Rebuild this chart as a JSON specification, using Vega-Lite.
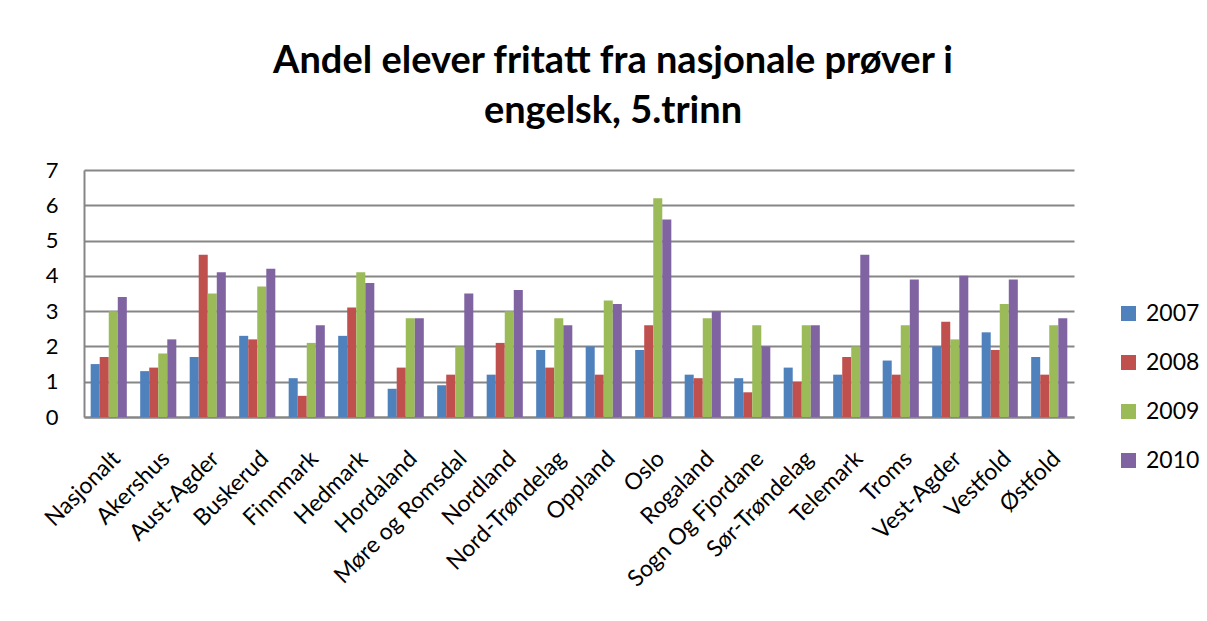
{
  "$schema": "https://vega.github.io/schema/vega-lite/v6.json",
  "autosize": "none",
  "padding": {"left": 84, "top": 170, "right": 133, "bottom": 204},
  "width": 990,
  "height": 247,
  "background": "white",
  "title": {
    "text": ["Andel elever fritatt fra nasjonale prøver i", "engelsk, 5.trinn"],
    "font": "Lato",
    "fontSize": 38,
    "fontWeight": "bold",
    "color": "black",
    "lineHeight": 50,
    "anchor": "middle",
    "frame": "group",
    "dx": 34,
    "offset": 28
  },
  "data": {
    "values": [
      {"region": "Nasjonalt", "2007": 1.5, "2008": 1.7, "2009": 3.0, "2010": 3.4},
      {"region": "Akershus", "2007": 1.3, "2008": 1.4, "2009": 1.8, "2010": 2.2},
      {"region": "Aust-Agder", "2007": 1.7, "2008": 4.6, "2009": 3.5, "2010": 4.1},
      {"region": "Buskerud", "2007": 2.3, "2008": 2.2, "2009": 3.7, "2010": 4.2},
      {"region": "Finnmark", "2007": 1.1, "2008": 0.6, "2009": 2.1, "2010": 2.6},
      {"region": "Hedmark", "2007": 2.3, "2008": 3.1, "2009": 4.1, "2010": 3.8},
      {"region": "Hordaland", "2007": 0.8, "2008": 1.4, "2009": 2.8, "2010": 2.8},
      {"region": "Møre og Romsdal", "2007": 0.9, "2008": 1.2, "2009": 2.0, "2010": 3.5},
      {"region": "Nordland", "2007": 1.2, "2008": 2.1, "2009": 3.0, "2010": 3.6},
      {"region": "Nord-Trøndelag", "2007": 1.9, "2008": 1.4, "2009": 2.8, "2010": 2.6},
      {"region": "Oppland", "2007": 2.0, "2008": 1.2, "2009": 3.3, "2010": 3.2},
      {"region": "Oslo", "2007": 1.9, "2008": 2.6, "2009": 6.2, "2010": 5.6},
      {"region": "Rogaland", "2007": 1.2, "2008": 1.1, "2009": 2.8, "2010": 3.0},
      {"region": "Sogn Og Fjordane", "2007": 1.1, "2008": 0.7, "2009": 2.6, "2010": 2.0},
      {"region": "Sør-Trøndelag", "2007": 1.4, "2008": 1.0, "2009": 2.6, "2010": 2.6},
      {"region": "Telemark", "2007": 1.2, "2008": 1.7, "2009": 2.0, "2010": 4.6},
      {"region": "Troms", "2007": 1.6, "2008": 1.2, "2009": 2.6, "2010": 3.9},
      {"region": "Vest-Agder", "2007": 2.0, "2008": 2.7, "2009": 2.2, "2010": 4.0},
      {"region": "Vestfold", "2007": 2.4, "2008": 1.9, "2009": 3.2, "2010": 3.9},
      {"region": "Østfold", "2007": 1.7, "2008": 1.2, "2009": 2.6, "2010": 2.8}
    ]
  },
  "transform": [
    {"fold": ["2007", "2008", "2009", "2010"], "as": ["year", "value"]}
  ],
  "mark": {"type": "bar"},
  "encoding": {
    "x": {
      "field": "region",
      "type": "nominal",
      "sort": null,
      "title": null,
      "scale": {"paddingInner": 0.27, "paddingOuter": 0.135},
      "axis": {
        "labelAngle": -45,
        "labelAlign": "right",
        "labelBaseline": "top",
        "labelFont": "Lato",
        "labelFontSize": 23,
        "labelColor": "black",
        "labelPadding": 30,
        "labelLimit": 400,
        "labelOverlap": false,
        "ticks": false,
        "domainColor": "#868686",
        "domainWidth": 2
      }
    },
    "xOffset": {"field": "year", "type": "nominal", "sort": ["2007", "2008", "2009", "2010"]},
    "y": {
      "field": "value",
      "type": "quantitative",
      "title": null,
      "scale": {"domain": [0, 7], "nice": false},
      "axis": {
        "values": [0, 1, 2, 3, 4, 5, 6, 7],
        "labelFont": "Lato",
        "labelFontSize": 22,
        "labelColor": "black",
        "labelPadding": 26,
        "ticks": false,
        "grid": true,
        "gridColor": "#868686",
        "gridWidth": 2,
        "domainColor": "#868686",
        "domainWidth": 2
      }
    },
    "color": {
      "field": "year",
      "type": "nominal",
      "sort": ["2007", "2008", "2009", "2010"],
      "title": null,
      "scale": {
        "domain": ["2007", "2008", "2009", "2010"],
        "range": ["#4F81BD", "#C0504D", "#9BBB59", "#8064A2"]
      },
      "legend": {
        "orient": "none",
        "legendX": 1033,
        "legendY": 132,
        "symbolType": "square",
        "symbolSize": 225,
        "symbolStrokeWidth": 0,
        "labelFont": "Lato",
        "labelFontSize": 23,
        "labelColor": "black",
        "rowPadding": 25,
        "labelOffset": 6
      }
    }
  },
  "config": {
    "view": {"stroke": null},
    "axis": {"gridOpacity": 1}
  }
}
